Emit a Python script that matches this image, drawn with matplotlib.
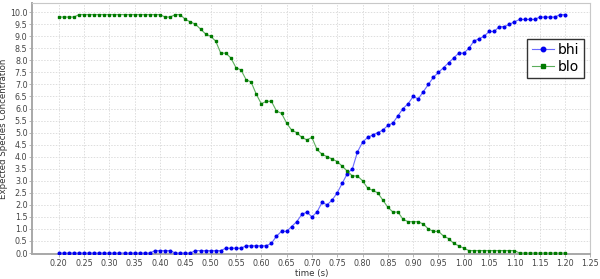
import numpy as np
import matplotlib
matplotlib.use("Agg")
import matplotlib.pyplot as plt

time = [round(0.20 + 0.01 * i, 2) for i in range(101)]

bhi = [
    0.0, 0.0, 0.0, 0.0, 0.0, 0.0, 0.0, 0.0, 0.0, 0.0,   # 0.20-0.29
    0.0, 0.0, 0.0, 0.0, 0.0, 0.0, 0.0, 0.0, 0.0, 0.1,   # 0.30-0.39
    0.1, 0.1, 0.1, 0.0, 0.0, 0.0, 0.0, 0.1, 0.1, 0.1,   # 0.40-0.49
    0.1, 0.1, 0.1, 0.2, 0.2, 0.2, 0.2, 0.3, 0.3, 0.3,   # 0.50-0.59
    0.3, 0.3, 0.4, 0.7, 0.9, 0.9, 1.1, 1.3, 1.6, 1.7,   # 0.60-0.69
    1.5, 1.7, 2.1, 2.0, 2.2, 2.5, 2.9, 3.3, 3.5, 4.2,   # 0.70-0.79
    4.6, 4.8, 4.9, 5.0, 5.1, 5.3, 5.4, 5.7, 6.0, 6.2,   # 0.80-0.89
    6.5, 6.4, 6.7, 7.0, 7.3, 7.5, 7.7, 7.9, 8.1, 8.3,   # 0.90-0.99
    8.3, 8.5, 8.8, 8.9, 9.0, 9.2, 9.2, 9.4, 9.4, 9.5,   # 1.00-1.09
    9.6, 9.7, 9.7, 9.7, 9.7, 9.8, 9.8, 9.8, 9.8, 9.9,   # 1.10-1.19
    9.9,                                                # 1.20
]

blo = [
    9.8, 9.8, 9.8, 9.8, 9.9, 9.9, 9.9, 9.9, 9.9, 9.9,   # 0.20-0.29
    9.9, 9.9, 9.9, 9.9, 9.9, 9.9, 9.9, 9.9, 9.9, 9.9,   # 0.30-0.39
    9.9, 9.8, 9.8, 9.9, 9.9, 9.7, 9.6, 9.5, 9.3, 9.1,   # 0.40-0.49
    9.0, 8.8, 8.3, 8.3, 8.1, 7.7, 7.6, 7.2, 7.1, 6.6,   # 0.50-0.59
    6.2, 6.3, 6.3, 5.9, 5.8, 5.4, 5.1, 5.0, 4.8, 4.7,   # 0.60-0.69
    4.8, 4.3, 4.1, 4.0, 3.9, 3.8, 3.6, 3.4, 3.2, 3.2,   # 0.70-0.79
    3.0, 2.7, 2.6, 2.5, 2.2, 1.9, 1.7, 1.7, 1.4, 1.3,   # 0.80-0.89
    1.3, 1.3, 1.2, 1.0, 0.9, 0.9, 0.7, 0.6, 0.4, 0.3,   # 0.90-0.99
    0.2, 0.1, 0.1, 0.1, 0.1, 0.1, 0.1, 0.1, 0.1, 0.1,   # 1.00-1.09
    0.1, 0.0, 0.0, 0.0, 0.0, 0.0, 0.0, 0.0, 0.0, 0.0,   # 1.10-1.19
    0.0,                                                # 1.20
]

x_ticks = [0.20, 0.25, 0.30, 0.35, 0.40, 0.45, 0.50, 0.55, 0.60, 0.65, 0.70,
           0.75, 0.80, 0.85, 0.90, 0.95, 1.00, 1.05, 1.10, 1.15, 1.20, 1.25]
y_ticks = [0.0, 0.5, 1.0, 1.5, 2.0, 2.5, 3.0, 3.5, 4.0, 4.5, 5.0,
           5.5, 6.0, 6.5, 7.0, 7.5, 8.0, 8.5, 9.0, 9.5, 10.0]

plt.rcParams['font.family'] = ['DejaVu Sans']

fig = plt.figure(figsize=(6.0, 2.79), dpi=100)
ax = fig.add_axes([0.054, 0.088, 0.930, 0.901])

ax.plot(time, bhi, color='#6a6aff', lw=0.8, marker='o', markersize=1.9,
        markerfacecolor='#0000f0', markeredgecolor='#0000f0', label='bhi', zorder=3)
ax.plot(time, blo, color='#5cae5c', lw=0.8, marker='s', markersize=1.7,
        markerfacecolor='#007a00', markeredgecolor='#007a00', label='blo', zorder=3)

ax.set_xlim(0.148, 1.25)
ax.set_ylim(-0.06, 10.38)
ax.set_xticks(x_ticks)
ax.set_xticklabels([f"{v:.2f}" for v in x_ticks])
ax.set_yticks(y_ticks)
ax.set_yticklabels([f"{v:.1f}" for v in y_ticks])

ax.grid(True, color='#dddddd', linestyle=(0, (1.5, 1.5)), linewidth=0.7, zorder=0)
ax.tick_params(axis='both', labelsize=5.8, colors='#444444', length=2, width=0.5,
               pad=1.5, color='#999999')
for s in ['top', 'right']:
    ax.spines[s].set_color('#c8c8c8')
    ax.spines[s].set_linewidth(0.8)
for s in ['left', 'bottom']:
    ax.spines[s].set_color('#a8a8a8')
    ax.spines[s].set_linewidth(1.4)

ax.set_xlabel('time (s)', fontsize=6.2, color='#333333')
ax.set_ylabel('Expected Species Concentration', fontsize=6.2, color='#333333')
ax.xaxis.set_label_coords(0.5, -0.058)
ax.yaxis.set_label_coords(-0.044, 0.5)

leg = ax.legend(loc='upper right', bbox_to_anchor=(0.988, 0.857), borderaxespad=0,
                fontsize=10, frameon=True, fancybox=False, borderpad=0.3,
                handlelength=1.6, handletextpad=0.3, labelspacing=0.2, markerscale=1.7)
leg.get_frame().set_edgecolor('black')
leg.get_frame().set_linewidth(1.0)

fig.savefig('out.png', dpi=100, facecolor='white')
